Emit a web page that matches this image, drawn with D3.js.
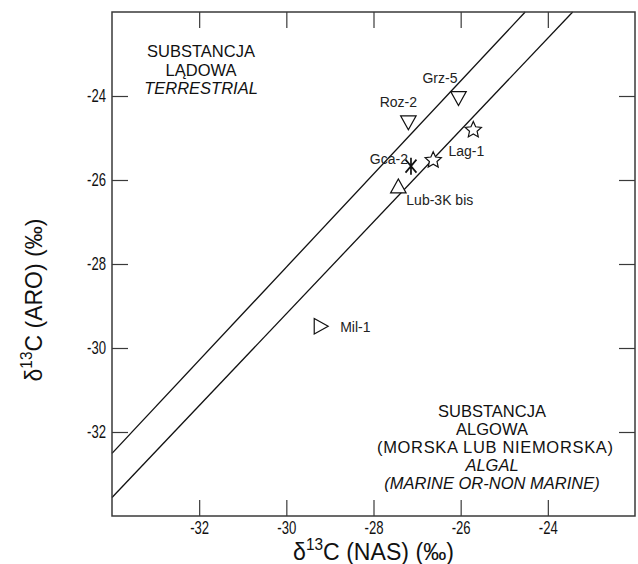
<!DOCTYPE html>
<html>
<head>
<meta charset="utf-8">
<script src="https://cdn.jsdelivr.net/npm/d3@7"></script>
<style>
  html, body { margin: 0; padding: 0; background: #fff; }
  svg { display: block; }
  text { font-family: "Liberation Sans", Arial, Helvetica, sans-serif; }
</style>
</head>
<body>
<svg id="chart" width="638" height="564"></svg>
<script>
// ---------------- data ----------------
const sampleNames = ["Grz-5", "Roz-2", "Lag-1", "Lag-1", "Gca-2", "Lub-3K bis", "Mil-1"];
const nasValues   = [-26.05, -27.20, -25.71, -26.63, -27.14, -27.43, -29.20];
const aroValues   = [-24.06, -24.64, -24.81, -25.53, -25.67, -26.14, -29.48];
const markerTypes = ["down", "down", "star", "star", "asterisk", "up", "right"];
const showLabel   = [true, true, true, false, true, true, true];

const xTicks = [-32, -30, -28, -26, -24];
const yTicks = [-32, -30, -28, -26, -24];
const xDomain = [-34, -22];
const yDomain = [-34, -22];

// boundary lines (NAS, ARO endpoints)
const lineUpperX = [-34, -24.52];
const lineUpperY = [-32.51, -22];
const lineLowerX = [-34, -23.43];
const lineLowerY = [-33.56, -22];

const terrestrialText = ["SUBSTANCJA", "LĄDOWA", "TERRESTRIAL"];
const algalText = ["SUBSTANCJA", "ALGOWA", "(MORSKA LUB NIEMORSKA)", "ALGAL", "(MARINE OR-NON MARINE)"];

// ---------------- layout ----------------
const M = { left: 112, right: 635, top: 12, bottom: 516 };
const labelPlacement = {
  "Grz-5":      { anchor: "end",    dx: -1,  dy: -16 },
  "Roz-2":      { anchor: "middle", dx: -10, dy: -16 },
  "Lag-1":      { anchor: "middle", dx: -7,  dy: 26 },
  "Gca-2":      { anchor: "end",    dx: -3,  dy: -2 },
  "Lub-3K bis": { anchor: "start",  dx: 8,   dy: 19 },
  "Mil-1":      { anchor: "start",  dx: 19,  dy: 6 }
};
const NARROW = 0.75;

const svg = d3.select("#chart");
const x = d3.scaleLinear().domain(xDomain).range([M.left, M.right]);
const y = d3.scaleLinear().domain(yDomain).range([M.bottom, M.top]);

const frameColor = "#3a3a3a";
const tickLen = 16;

// boundary lines
const lineGen = d3.line().x(d => x(d[0])).y(d => y(d[1]));
[[lineUpperX, lineUpperY], [lineLowerX, lineLowerY]].forEach(([lx, ly]) => {
  svg.append("path")
    .attr("d", lineGen(d3.zip(lx, ly)))
    .attr("fill", "none")
    .attr("stroke", "#111")
    .attr("stroke-width", 1.3);
});

// axes with inward ticks
const gB = svg.append("g").attr("transform", `translate(0,${M.bottom})`)
  .call(d3.axisBottom(x).tickValues(xTicks).tickSize(-tickLen).tickPadding(6).tickFormat(d => String(d)));
const gT = svg.append("g").attr("transform", `translate(0,${M.top})`)
  .call(d3.axisTop(x).tickValues(xTicks).tickSize(-tickLen).tickFormat(""));
const gL = svg.append("g").attr("transform", `translate(${M.left},0)`)
  .call(d3.axisLeft(y).tickValues(yTicks).tickSize(-tickLen).tickPadding(8).tickFormat(d => String(d)));
const gR = svg.append("g").attr("transform", `translate(${M.right},0)`)
  .call(d3.axisRight(y).tickValues(yTicks).tickSize(-tickLen).tickFormat(""));

[gB, gT, gL, gR].forEach(g => {
  g.select(".domain").remove();
  g.selectAll(".tick line").attr("stroke", frameColor).attr("stroke-width", 1.2);
  g.selectAll(".tick text")
    .attr("font-family", "Liberation Sans, Arial, sans-serif")
    .attr("font-size", 17.5)
    .attr("fill", "#111")
    .attr("transform", `scale(${NARROW},1)`);
});

// frame
svg.append("rect")
  .attr("x", M.left).attr("y", M.top)
  .attr("width", M.right - M.left).attr("height", M.bottom - M.top)
  .attr("fill", "none").attr("stroke", frameColor).attr("stroke-width", 1.5);

// axis titles (condensed like the original)
function axisTitle(parent, cx, cy, rot, name, targetLen) {
  const grp = parent.append("g");
  const t = grp.append("text").attr("text-anchor", "middle").attr("font-size", 24).attr("fill", "#111");
  t.append("tspan").text("δ");
  t.append("tspan").attr("font-size", 16).attr("dy", -10).text("13");
  t.append("tspan").attr("dy", 10).text("C (" + name + ") (‰)");
  const w = t.node().getBBox().width;
  const s = targetLen / w;
  grp.attr("transform", `translate(${cx},${cy}) rotate(${rot}) scale(${s},1)`);
}
axisTitle(svg, (M.left + M.right) / 2, 560, 0, "NAS", 161);
axisTitle(svg, 42, 300, -90, "ARO", 163);

// region texts
const tt = svg.append("text").attr("font-size", 16.5).attr("fill", "#111")
  .attr("text-anchor", "middle");
terrestrialText.forEach((t, i) => {
  tt.append("tspan").attr("x", 201).attr("y", 57 + i * 18.5)
    .attr("font-style", i === 2 ? "italic" : "normal").text(t);
});
const at = svg.append("text").attr("font-size", 16.5).attr("fill", "#111")
  .attr("text-anchor", "middle");
algalText.forEach((t, i) => {
  const ts = at.append("tspan").attr("x", i === 2 ? 495 : 492).attr("y", 417 + i * 18)
    .attr("font-style", i >= 3 ? "italic" : "normal").text(t);
  if (i === 2) ts.attr("textLength", 236).attr("lengthAdjust", "spacing");
});

// markers
function triPath(dir, s) {
  const h = s * 0.9, w = s / 2;
  if (dir === "down") return `M${-w},${-h/2}L${w},${-h/2}L0,${h/2}Z`;
  if (dir === "up") return `M${-w},${h/2}L${w},${h/2}L0,${-h/2}Z`;
  if (dir === "right") return `M${-h/2},${-w}L${h/2},0L${-h/2},${w}Z`;
  return "";
}
function starPath(ro, ri) {
  let p = "";
  for (let i = 0; i < 10; i++) {
    const r = i % 2 === 0 ? ro : ri;
    const a = -Math.PI / 2 + i * Math.PI / 5;
    p += (i === 0 ? "M" : "L") + (r * Math.cos(a)).toFixed(2) + "," + (r * Math.sin(a)).toFixed(2);
  }
  return p + "Z";
}
function asteriskPath(r) {
  let p = `M0,${-r}L0,${r}`;
  [40, -40].forEach(deg => {
    const a = (90 - deg) * Math.PI / 180;
    const dx = r * Math.cos(a), dy = r * Math.sin(a);
    p += `M${-dx.toFixed(2)},${-dy.toFixed(2)}L${dx.toFixed(2)},${dy.toFixed(2)}`;
  });
  return p;
}

const points = sampleNames.map((n, i) => ({ name: n, nas: nasValues[i], aro: aroValues[i], type: markerTypes[i], label: showLabel[i] }));

const g = svg.append("g");
g.selectAll("path.mk").data(points).join("path")
  .attr("class", "mk")
  .attr("transform", d => `translate(${x(d.nas)},${y(d.aro)})`)
  .attr("d", d => {
    if (d.type === "star") return starPath(8.5, 4);
    if (d.type === "asterisk") return asteriskPath(8.5);
    return triPath(d.type, 15.5);
  })
  .attr("fill", d => d.type === "asterisk" ? "none" : "#fff")
  .attr("stroke", "#111")
  .attr("stroke-width", d => d.type === "asterisk" ? 1.7 : 1.2);

g.selectAll("text.lbl").data(points.filter(d => d.label)).join("text")
  .attr("class", "lbl")
  .attr("x", d => x(d.nas) + labelPlacement[d.name].dx)
  .attr("y", d => y(d.aro) + labelPlacement[d.name].dy)
  .attr("text-anchor", d => labelPlacement[d.name].anchor)
  .attr("font-size", 14)
  .attr("fill", "#222")
  .text(d => d.name);
</script>
</body>
</html>
